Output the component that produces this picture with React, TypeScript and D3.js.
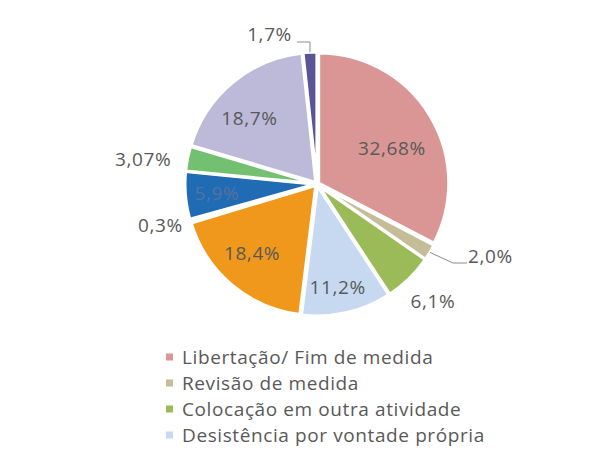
import React, { useEffect, useRef } from 'react';
import * as d3 from 'd3';

// slices, clockwise from 12 o'clock
const values = [32.68, 2.0, 6.1, 11.2, 18.4, 0.3, 5.9, 3.07, 18.7, 1.7];
const labels = ['32,68%', '2,0%', '6,1%', '11,2%', '18,4%', '0,3%', '5,9%', '3,07%', '18,7%', '1,7%'];
const colors = ['#D99694', '#C4BD97', '#9BBB59', '#C6D9F1', '#F0981C', '#FFFFFF', '#1F6BB4', '#72C070', '#BDBAD9', '#5A5597'];
const legendNames = [
  'Libertação/ Fim de medida',
  'Revisão de medida',
  'Colocação em outra atividade',
  'Desistência por vontade própria',
];

const App = () => {
  const svgRef = useRef<SVGSVGElement>(null);

  useEffect(() => {
    const svg = d3.select(svgRef.current);
    svg.selectAll('*').remove();

    const width = 600;
    const height = 452;
    const cx = 317;
    const cy = 184;
    const radius = 130;
    const font = "'Open Sans', 'Noto Sans', sans-serif";
    const textColor = '#595959';

    svg.attr('width', width).attr('height', height);
    svg.append('rect').attr('width', width).attr('height', height).attr('fill', '#fff');

    const pie = d3.pie<number>().sort(null).value(d => d);
    const arcs = pie(values);
    const arc = d3.arc<d3.PieArcDatum<number>>().innerRadius(0).outerRadius(radius);
    const mid = (d: d3.PieArcDatum<number>) => (d.startAngle + d.endAngle) / 2;

    const g = svg.append('g').attr('transform', `translate(${cx},${cy})`);

    // slightly exploded slices
    g.selectAll('path.slice')
      .data(arcs)
      .enter()
      .append('path')
      .classed('slice', true)
      .attr('d', arc)
      .attr('transform', d => `translate(${Math.sin(mid(d)) * 2},${-Math.cos(mid(d)) * 2})`)
      .attr('fill', (d, i) => colors[i])
      .attr('stroke', '#fff')
      .attr('stroke-width', 3)
      .attr('stroke-linejoin', 'round');

    // radius factor along the slice middle, then a nudge
    const labelPos = [
      { r: 0.62, dx: 6, dy: 6 },
      { r: 1.38, dx: 20, dy: -21 },
      { r: 1.2, dx: 7, dy: 6 },
      { r: 0.8, dx: -3, dy: 2 },
      { r: 0.62, dx: -13, dy: 8 },
      { r: 1.23, dx: -3, dy: -3 },
      { r: 0.75, dx: -3, dy: 1 },
      { r: 1.3, dx: -8, dy: 8 },
      { r: 0.62, dx: -16, dy: -4 },
      { r: 1.22, dx: -39, dy: 9 },
    ];

    g.selectAll('text.label')
      .data(arcs)
      .enter()
      .append('text')
      .classed('label', true)
      .attr('x', (d, i) => Math.sin(mid(d)) * radius * labelPos[i].r + labelPos[i].dx)
      .attr('y', (d, i) => -Math.cos(mid(d)) * radius * labelPos[i].r + labelPos[i].dy)
      .attr('dy', '0.35em')
      .attr('text-anchor', 'middle')
      .style('font-family', font)
      .style('font-size', '19px')
      .style('letter-spacing', '0.6px')
      .style('fill', (d, i) => (i === 6 ? '#56739c' : textColor))
      .text((d, i) => labels[i]);

    // leader lines for the two thin slices
    const lead = (a: number, pts: [number, number][]) => {
      const start: [number, number] = [Math.sin(a) * (radius + 2), -Math.cos(a) * (radius + 2)];
      g.append('path')
        .attr('d', d3.line()([start, ...pts]))
        .attr('fill', 'none')
        .attr('stroke', '#8c8c8c')
        .attr('stroke-width', 1);
    };
    lead(mid(arcs[1]), [[136, 79], [150, 79]]);
    lead(mid(arcs[9]), [[-7, -142], [-20, -142]]);

    // legend
    const legend = svg.append('g').attr('transform', 'translate(166,357)');
    const rowH = 26;
    legendNames.forEach((name, i) => {
      legend.append('rect')
        .attr('x', 0)
        .attr('y', i * rowH - 3.5)
        .attr('width', 7)
        .attr('height', 7)
        .attr('fill', colors[i]);
      legend.append('text')
        .attr('x', 16)
        .attr('y', i * rowH)
        .attr('dy', '0.35em')
        .style('font-family', font)
        .style('font-size', '19px')
        .style('letter-spacing', '0.6px')
        .style('fill', textColor)
        .text(name);
    });
  }, []);

  return <svg ref={svgRef} style={{ position: 'absolute', left: 0, top: 0 }}></svg>;
};

export default App;
